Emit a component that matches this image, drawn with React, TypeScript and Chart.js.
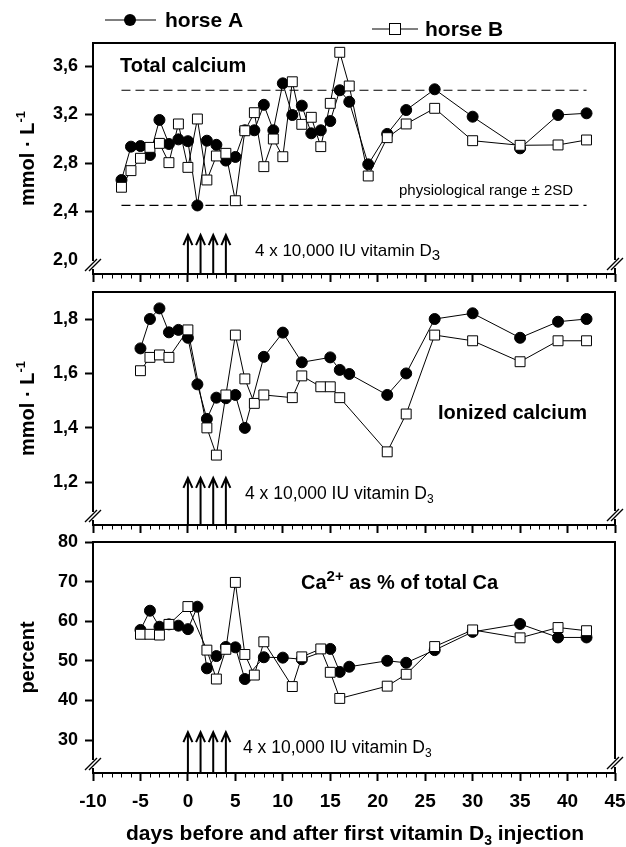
import React, { useEffect, useRef } from 'react';
import { Chart, registerables } from 'chart.js';

Chart.register(...registerables);

const FONT = '"Liberation Sans", Arial, Helvetica, sans-serif';

// ---------------- data ----------------
const xMin = -10;
const xMax = 45;
const xMajorTicks = [-10, -5, 0, 5, 10, 15, 20, 25, 30, 35, 40, 45];

// Total calcium (mmol/L)
const daysTotalA = [-7, -6, -5, -4, -3, -2, -1, 0, 1, 2, 3, 4, 5, 6, 7, 8, 9, 10, 11, 12, 13, 14, 15, 16, 17, 19, 21, 23, 26, 30, 35, 39, 42];
const totalA = [2.66, 2.935, 2.94, 2.866, 3.155, 2.957, 2.995, 2.98, 2.45, 2.984, 2.95, 2.82, 2.85, 3.07, 3.07, 3.28, 3.07, 3.457, 3.196, 3.273, 3.045, 3.07, 3.146, 3.4, 3.305, 2.789, 3.04, 3.237, 3.408, 3.182, 2.921, 3.196, 3.21];
const daysTotalB = [-7, -6, -5, -4, -3, -2, -1, 0, 1, 2, 3, 4, 5, 6, 7, 8, 9, 10, 11, 12, 13, 14, 15, 16, 17, 19, 21, 23, 26, 30, 35, 39, 42];
const totalB = [2.6, 2.737, 2.839, 2.929, 2.962, 2.803, 3.122, 2.764, 3.163, 2.66, 2.858, 2.88, 2.489, 3.066, 3.215, 2.77, 2.998, 2.852, 3.47, 3.119, 3.177, 2.935, 3.292, 3.713, 3.435, 2.693, 3.009, 3.122, 3.251, 2.984, 2.946, 2.949, 2.99];

// physiological range
const physRangeDays = [-7, 42];
const physUpper = 3.4;
const physLower = 2.45;

// Ionized calcium (mmol/L)
const daysIonA = [-5, -4, -3, -2, -1, 0, 1, 2, 3, 4, 5, 6, 8, 10, 12, 15, 16, 17, 21, 23, 26, 30, 35, 39, 42];
const ionA = [1.692, 1.8, 1.839, 1.751, 1.76, 1.731, 1.56, 1.433, 1.511, 1.509, 1.521, 1.4, 1.661, 1.75, 1.641, 1.659, 1.613, 1.598, 1.521, 1.6, 1.8, 1.821, 1.731, 1.79, 1.8];
const daysIonB = [-5, -4, -3, -2, 0, 2, 3, 4, 5, 6, 7, 8, 11, 12, 14, 15, 16, 21, 23, 26, 30, 35, 39, 42];
const ionB = [1.61, 1.659, 1.668, 1.659, 1.76, 1.4, 1.3, 1.521, 1.741, 1.58, 1.49, 1.521, 1.511, 1.591, 1.551, 1.551, 1.511, 1.312, 1.451, 1.741, 1.72, 1.643, 1.72, 1.72];

// Ca2+ as % of total Ca
const daysPctA = [-5, -4, -3, -2, -1, 0, 1, 2, 3, 4, 5, 6, 8, 10, 12, 15, 16, 17, 21, 23, 26, 30, 35, 39, 42];
const pctA = [57.8, 62.65, 58.6, 59.2, 58.87, 58.0, 63.66, 48.1, 51.2, 53.5, 53.4, 45.4, 50.9, 50.8, 50.4, 53.0, 47.2, 48.5, 50.0, 49.5, 52.7, 57.3, 59.3, 55.9, 55.9];
const daysPctB = [-5, -4, -3, -2, 0, 2, 3, 4, 5, 6, 7, 8, 11, 12, 14, 15, 16, 21, 23, 26, 30, 35, 39, 42];
const pctB = [56.7, 56.7, 56.5, 59.2, 63.7, 52.7, 45.4, 52.9, 69.8, 51.6, 46.4, 54.8, 43.5, 51.0, 53.0, 47.1, 40.5, 43.6, 46.6, 53.6, 57.8, 55.8, 58.4, 57.6];

// vitamin D3 injections (arrows)
const injectionDays = [0, 1.333, 2.667, 4];

// y tick values
const yTicksTotal = [2.0, 2.4, 2.8, 3.2, 3.6];
const yTicksIon = [1.2, 1.4, 1.6, 1.8];
const yTicksPct = [30, 40, 50, 60, 70, 80];

const seriesNames = ['horse A', 'horse B'];

// ---------------- helpers ----------------
type Run = { t: string; size: number; bold?: boolean; dy?: number };
type TextItem = { x: number; y: number; runs: Run[]; align?: 'left' | 'center' };

function fontOf(r: Run) {
  return `${r.bold ? 'bold ' : ''}${r.size}px ${FONT}`;
}
function runsWidth(ctx: CanvasRenderingContext2D, runs: Run[]) {
  let w = 0;
  for (const r of runs) {
    ctx.font = fontOf(r);
    w += ctx.measureText(r.t).width;
  }
  return w;
}
function drawRuns(ctx: CanvasRenderingContext2D, runs: Run[], x: number, y: number, align: 'left' | 'center' = 'left') {
  let cx = align === 'center' ? x - runsWidth(ctx, runs) / 2 : x;
  ctx.textBaseline = 'alphabetic';
  ctx.textAlign = 'left';
  ctx.fillStyle = '#000';
  for (const r of runs) {
    ctx.font = fontOf(r);
    ctx.fillText(r.t, cx, y + (r.dy || 0));
    cx += ctx.measureText(r.t).width;
  }
}

const pts = (xs: number[], ys: number[]) => xs.map((x, i) => ({ x, y: ys[i] }));

const circleDs = (label: string, xs: number[], ys: number[]) => ({
  label,
  data: pts(xs, ys),
  borderColor: '#000',
  borderWidth: 1,
  backgroundColor: '#000',
  pointStyle: 'circle',
  pointRadius: 5.5,
  pointBackgroundColor: '#000',
  pointBorderColor: '#000',
  pointBorderWidth: 1,
  tension: 0,
  order: 1,
});
const squareDs = (label: string, xs: number[], ys: number[]) => ({
  label,
  data: pts(xs, ys),
  borderColor: '#000',
  borderWidth: 1,
  backgroundColor: '#fff',
  pointStyle: 'rect',
  pointRadius: 7,
  pointBackgroundColor: '#fff',
  pointBorderColor: '#000',
  pointBorderWidth: 1,
  tension: 0,
  order: 0,
});
const dashDs = (label: string, v: number) => ({
  label,
  data: physRangeDays.map((d) => ({ x: d, y: v })),
  borderColor: '#000',
  borderWidth: 1.2,
  borderDash: [9, 5],
  pointRadius: 0,
  tension: 0,
  order: 2,
});

interface PanelCfg {
  top: number;
  bottom: number;
  yMin: number;
  yMax: number;
  yTicks: number[];
  yFmt: (v: number) => string;
  noTickAt?: number;
  datasets: any[];
  showXLabels: boolean;
  arrowTop: number;
  texts: TextItem[];
  yTitle: Run[];
  legend?: boolean;
  xTitle?: boolean;
}

const decoPlugin = {
  id: 'panelDeco',
  afterDraw(chart: any) {
    const cfg: PanelCfg = chart.$panelCfg;
    if (!cfg) return;
    const ctx: CanvasRenderingContext2D = chart.ctx;
    const ca = chart.chartArea;
    const xs = chart.scales.x;
    const ys = chart.scales.y;
    ctx.save();
    ctx.strokeStyle = '#000';
    ctx.lineCap = 'butt';

    // frame with axis breaks
    ctx.lineWidth = 2;
    const L = ca.left, R = ca.right, T = ca.top, B = ca.bottom;
    const lb = B - 9; // left break centre
    const rb = B - 10; // right break centre
    ctx.beginPath();
    ctx.moveTo(L - 1, T); ctx.lineTo(R + 1, T);
    ctx.moveTo(L - 1, B); ctx.lineTo(R + 1, B);
    ctx.moveTo(L, T); ctx.lineTo(L, lb - 4);
    ctx.moveTo(L, lb + 4); ctx.lineTo(L, B);
    ctx.moveTo(R, T); ctx.lineTo(R, rb - 4);
    ctx.moveTo(R, rb + 4); ctx.lineTo(R, B);
    ctx.stroke();
    ctx.lineWidth = 1.4;
    ctx.beginPath();
    for (const [cx, cy] of [[L, lb], [R, rb]]) {
      for (const off of [-2, 2]) {
        ctx.moveTo(cx - 6 + off, cy + 6);
        ctx.lineTo(cx + 6 + off, cy - 6);
      }
    }
    ctx.stroke();

    // minor x ticks
    ctx.lineWidth = 1;
    ctx.beginPath();
    for (let d = xMin; d <= xMax; d++) {
      if (d % 5 === 0) continue;
      const px = Math.round(xs.getPixelForValue(d)) + 0.5;
      ctx.moveTo(px, B);
      ctx.lineTo(px, B + 4.5);
    }
    ctx.stroke();

    // injection arrows
    ctx.lineWidth = 2;
    const tipY = ys.getPixelForValue(cfg.arrowTop);
    for (const d of injectionDays) {
      const px = xs.getPixelForValue(d);
      ctx.beginPath();
      ctx.moveTo(px, B);
      ctx.lineTo(px, tipY + 1);
      ctx.moveTo(px - 4.5, tipY + 10);
      ctx.lineTo(px, tipY);
      ctx.lineTo(px + 4.5, tipY + 10);
      ctx.stroke();
    }

    // annotation texts
    for (const t of cfg.texts) drawRuns(ctx, t.runs, t.x, t.y, t.align || 'left');

    // y-axis title (rotated)
    ctx.save();
    ctx.translate(34, (T + B) / 2);
    ctx.rotate(-Math.PI / 2);
    drawRuns(ctx, cfg.yTitle, 0, 0, 'center');
    ctx.restore();

    // legend
    if (cfg.legend) {
      ctx.lineWidth = 1;
      ctx.beginPath();
      ctx.moveTo(105, 20); ctx.lineTo(156, 20);
      ctx.moveTo(372, 29); ctx.lineTo(418, 29);
      ctx.stroke();
      ctx.fillStyle = '#000';
      ctx.beginPath();
      ctx.arc(130, 20, 6, 0, Math.PI * 2);
      ctx.fill();
      ctx.fillStyle = '#fff';
      ctx.fillRect(389.5, 23.5, 11, 11);
      ctx.strokeRect(389.5, 23.5, 11, 11);
      drawRuns(ctx, [{ t: seriesNames[0], size: 21, bold: true }], 165, 27);
      drawRuns(ctx, [{ t: seriesNames[1], size: 21, bold: true }], 425, 36);
    }

    // x-axis title
    if (cfg.xTitle) {
      drawRuns(
        ctx,
        [
          { t: 'days before and after first vitamin D', size: 21, bold: true },
          { t: '3', size: 14, bold: true, dy: 5 },
          { t: ' injection', size: 21, bold: true },
        ],
        355,
        840,
        'center'
      );
    }
    ctx.restore();
  },
};

const W = 626;
const H = 847;

function makeChart(canvas: HTMLCanvasElement, cfg: PanelCfg) {
  const xAxisH = H - cfg.bottom; // axis box reaches the canvas bottom (labels are clipped to it)
  const chart: any = new Chart(canvas, {
    type: 'line',
    data: { datasets: cfg.datasets },
    options: {
      animation: false,
      responsive: false,
      devicePixelRatio: 1,
      events: [],
      layout: { padding: { left: 0, right: 11, top: cfg.top, bottom: 0 } },
      plugins: { legend: { display: false }, tooltip: { enabled: false } },
      scales: {
        x: {
          type: 'linear',
          min: xMin,
          max: xMax,
          afterBuildTicks: (s: any) => {
            s.ticks = xMajorTicks.map((v) => ({ value: v }));
          },
          afterFit: (s: any) => {
            s.height = xAxisH;
            s.paddingLeft = 0;
            s.paddingRight = 0;
          },
          grid: { drawOnChartArea: false, drawTicks: true, tickLength: 8, tickWidth: 2, tickColor: '#000' },
          border: { display: false },
          ticks: {
            display: cfg.showXLabels,
            autoSkip: false,
            maxRotation: 0,
            padding: 9,
            color: '#000',
            font: { family: FONT, size: 19, weight: 'bold' },
            callback: (v: any) => String(v),
          },
        },
        y: {
          type: 'linear',
          min: cfg.yMin,
          max: cfg.yMax,
          afterBuildTicks: (s: any) => {
            s.ticks = cfg.yTicks.map((v) => ({ value: v }));
          },
          afterFit: (s: any) => {
            s.width = 93;
            s.paddingTop = 0;
            s.paddingBottom = 0;
          },
          grid: {
            drawOnChartArea: false,
            drawTicks: true,
            tickLength: 8,
            tickWidth: 2,
            tickColor: (c: any) => (cfg.noTickAt !== undefined && c.tick && Math.abs(c.tick.value - cfg.noTickAt) < 1e-9 ? 'rgba(0,0,0,0)' : '#000'),
          },
          border: { display: false },
          ticks: {
            padding: 7,
            color: '#000',
            font: { family: FONT, size: 18, weight: 'bold' },
            callback: (v: any) => cfg.yFmt(Number(v)),
          },
        },
      },
    } as any,
    plugins: [
      {
        id: 'cfgInject',
        beforeInit(c: any) {
          c.$panelCfg = cfg;
        },
      },
      decoPlugin,
    ],
  });
  return chart;
}

const comma1 = (v: number) => v.toFixed(1).replace('.', ',');
const int0 = (v: number) => String(Math.round(v));

const vitText = (mainSize: number, subSize: number): Run[] => [
  { t: '4 x 10,000 IU vitamin D', size: mainSize },
  { t: '3', size: subSize, dy: 4 },
];

export default function App() {
  const c1 = useRef<HTMLCanvasElement>(null);
  const c2 = useRef<HTMLCanvasElement>(null);
  const c3 = useRef<HTMLCanvasElement>(null);

  useEffect(() => {
    const charts: Chart[] = [];
    charts.push(
      makeChart(c1.current!, {
        top: 43,
        bottom: 274,
        yMin: 1.8847,
        yMax: 3.7897,
        yTicks: yTicksTotal,
        yFmt: comma1,
        noTickAt: 2.0,
        showXLabels: false,
        arrowTop: 2.206,
        datasets: [
          squareDs(seriesNames[1], daysTotalB, totalB),
          circleDs(seriesNames[0], daysTotalA, totalA),
          dashDs('upper', physUpper),
          dashDs('lower', physLower),
        ],
        texts: [
          { x: 120, y: 72, runs: [{ t: 'Total calcium', size: 20, bold: true }] },
          { x: 399, y: 195, runs: [{ t: 'physiological range ± 2SD', size: 15 }] },
          { x: 255, y: 256, runs: vitText(17, 15) },
        ],
        yTitle: [
          { t: 'mmol · L', size: 20, bold: true },
          { t: '-1', size: 13, bold: true, dy: -9 },
        ],
        legend: true,
      })
    );
    charts.push(
      makeChart(c2.current!, {
        top: 292,
        bottom: 525,
        yMin: 1.0432,
        yMax: 1.8992,
        yTicks: yTicksIon,
        yFmt: comma1,
        showXLabels: false,
        arrowTop: 1.216,
        datasets: [squareDs(seriesNames[1], daysIonB, ionB), circleDs(seriesNames[0], daysIonA, ionA)],
        texts: [
          { x: 438, y: 419, runs: [{ t: 'Ionized calcium', size: 20, bold: true }] },
          { x: 245, y: 499, runs: vitText(17.5, 12) },
        ],
        yTitle: [
          { t: 'mmol · L', size: 20, bold: true },
          { t: '-1', size: 13, bold: true, dy: -9 },
        ],
      })
    );
    charts.push(
      makeChart(c3.current!, {
        top: 542,
        bottom: 773,
        yMin: 21.67,
        yMax: 80,
        yTicks: yTicksPct,
        yFmt: int0,
        showXLabels: true,
        arrowTop: 32,
        datasets: [squareDs(seriesNames[1], daysPctB, pctB), circleDs(seriesNames[0], daysPctA, pctA)],
        texts: [
          {
            x: 301,
            y: 589,
            runs: [
              { t: 'Ca', size: 20, bold: true },
              { t: '2+', size: 15, bold: true, dy: -8 },
              { t: ' as % of total Ca', size: 20, bold: true },
            ],
          },
          { x: 243, y: 753, runs: vitText(17.5, 12) },
        ],
        yTitle: [{ t: 'percent', size: 20, bold: true }],
        xTitle: true,
      })
    );
    return () => {
      charts.forEach((c) => c.destroy());
    };
  }, []);

  const cs: React.CSSProperties = { position: 'absolute', left: 0, top: 0, width: W, height: H };
  return (
    <div style={{ position: 'absolute', left: 0, top: 0, width: W, height: H, background: '#fff' }}>
      <canvas ref={c1} width={W} height={H} style={cs} />
      <canvas ref={c2} width={W} height={H} style={cs} />
      <canvas ref={c3} width={W} height={H} style={cs} />
    </div>
  );
}
